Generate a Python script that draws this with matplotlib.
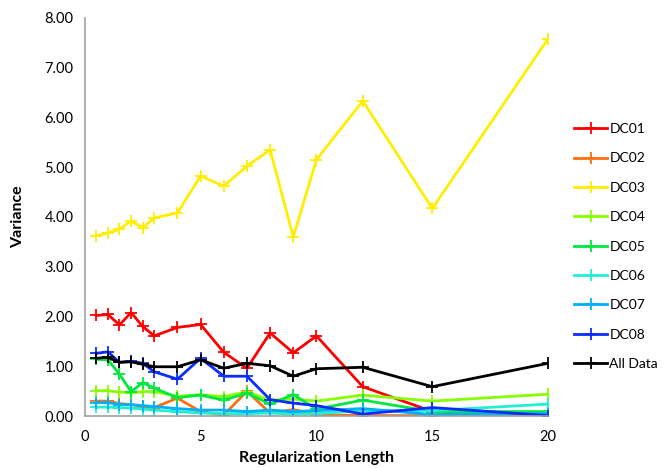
import matplotlib
matplotlib.use("Agg")
import matplotlib.pyplot as plt
from matplotlib.ticker import FormatStrFormatter

plt.rcParams['font.family'] = ['Lato', 'DejaVu Sans']

x = [0.5, 1, 1.5, 2, 2.5, 3, 4, 5, 6, 7, 8, 9, 10, 12, 15, 20]

dc01 = [2.02, 2.04, 1.83, 2.08, 1.80, 1.61, 1.78, 1.84, 1.28, 0.96, 1.67, 1.27, 1.61, 0.59, 0.09, 0.06]
dc02 = [0.30, 0.30, 0.25, 0.23, 0.19, 0.17, 0.36, 0.09, 0.02, 0.50, 0.06, 0.13, 0.03, 0.01, 0.01, 0.04]
dc03 = [3.62, 3.68, 3.75, 3.92, 3.78, 3.98, 4.08, 4.82, 4.62, 5.02, 5.35, 3.60, 5.15, 6.33, 4.17, 7.58]
dc04 = [0.51, 0.51, 0.48, 0.47, 0.49, 0.49, 0.40, 0.43, 0.39, 0.49, 0.32, 0.34, 0.30, 0.42, 0.30, 0.44]
dc05 = [1.14, 1.13, 0.84, 0.49, 0.67, 0.56, 0.37, 0.42, 0.32, 0.46, 0.24, 0.43, 0.14, 0.32, 0.09, 0.09]
dc06 = [0.18, 0.18, 0.17, 0.16, 0.14, 0.12, 0.09, 0.06, 0.05, 0.05, 0.06, 0.04, 0.05, 0.11, 0.11, 0.24]
dc07 = [0.27, 0.27, 0.23, 0.23, 0.21, 0.19, 0.15, 0.12, 0.12, 0.09, 0.12, 0.09, 0.11, 0.15, 0.03, 0.05]
dc08 = [1.26, 1.29, 1.08, 1.10, 1.06, 0.89, 0.74, 1.16, 0.80, 0.80, 0.33, 0.26, 0.21, 0.04, 0.17, 0.01]
all_data = [1.16, 1.18, 1.08, 1.09, 1.04, 0.99, 0.99, 1.13, 0.96, 1.06, 1.01, 0.80, 0.95, 0.98, 0.59, 1.06]

labels = ['DC01', 'DC02', 'DC03', 'DC04', 'DC05', 'DC06', 'DC07', 'DC08', 'All Data']
series = [dc01, dc02, dc03, dc04, dc05, dc06, dc07, dc08, all_data]
colors = ['#ff0000', '#ff7010', '#ffee00', '#88ff00', '#00e840', '#20f0d0', '#00b0ff', '#0a2cff', '#000000']

fig = plt.figure(figsize=(6.62, 4.68), dpi=100)
ax = fig.add_axes([0.128, 0.111, 0.700, 0.851])

for ys, lab, c in zip(series, labels, colors):
    ax.plot(x, ys, color=c, lw=2.0, marker='+', markersize=8.5, markeredgewidth=1.3, label=lab)

ax.set_xlim(0, 20)
ax.set_ylim(0, 8)
ax.set_xticks([0, 5, 10, 15, 20])
ax.set_yticks([0, 1, 2, 3, 4, 5, 6, 7, 8])
ax.yaxis.set_major_formatter(FormatStrFormatter('%.2f'))
ax.tick_params(length=0, labelsize=10.5)
ax.tick_params(axis='x', pad=10)
ax.tick_params(axis='y', pad=8)
for s in ['top', 'right']:
    ax.spines[s].set_visible(False)
for s in ['left', 'bottom']:
    ax.spines[s].set_color('#a0a0a0')
    ax.spines[s].set_linewidth(1.2)

ax.set_xlabel('Regularization Length', fontsize=11.5, fontweight='bold', labelpad=5)
ax.set_ylabel('Variance', fontsize=11.5, fontweight='bold', labelpad=14)

leg = ax.legend(loc='upper left', bbox_to_anchor=(1.035, 0.76), frameon=False,
                fontsize=10, handlelength=2.4, handletextpad=0.15, labelspacing=1.25,
                borderaxespad=0.3)

fig.savefig('out.png', dpi=100)
